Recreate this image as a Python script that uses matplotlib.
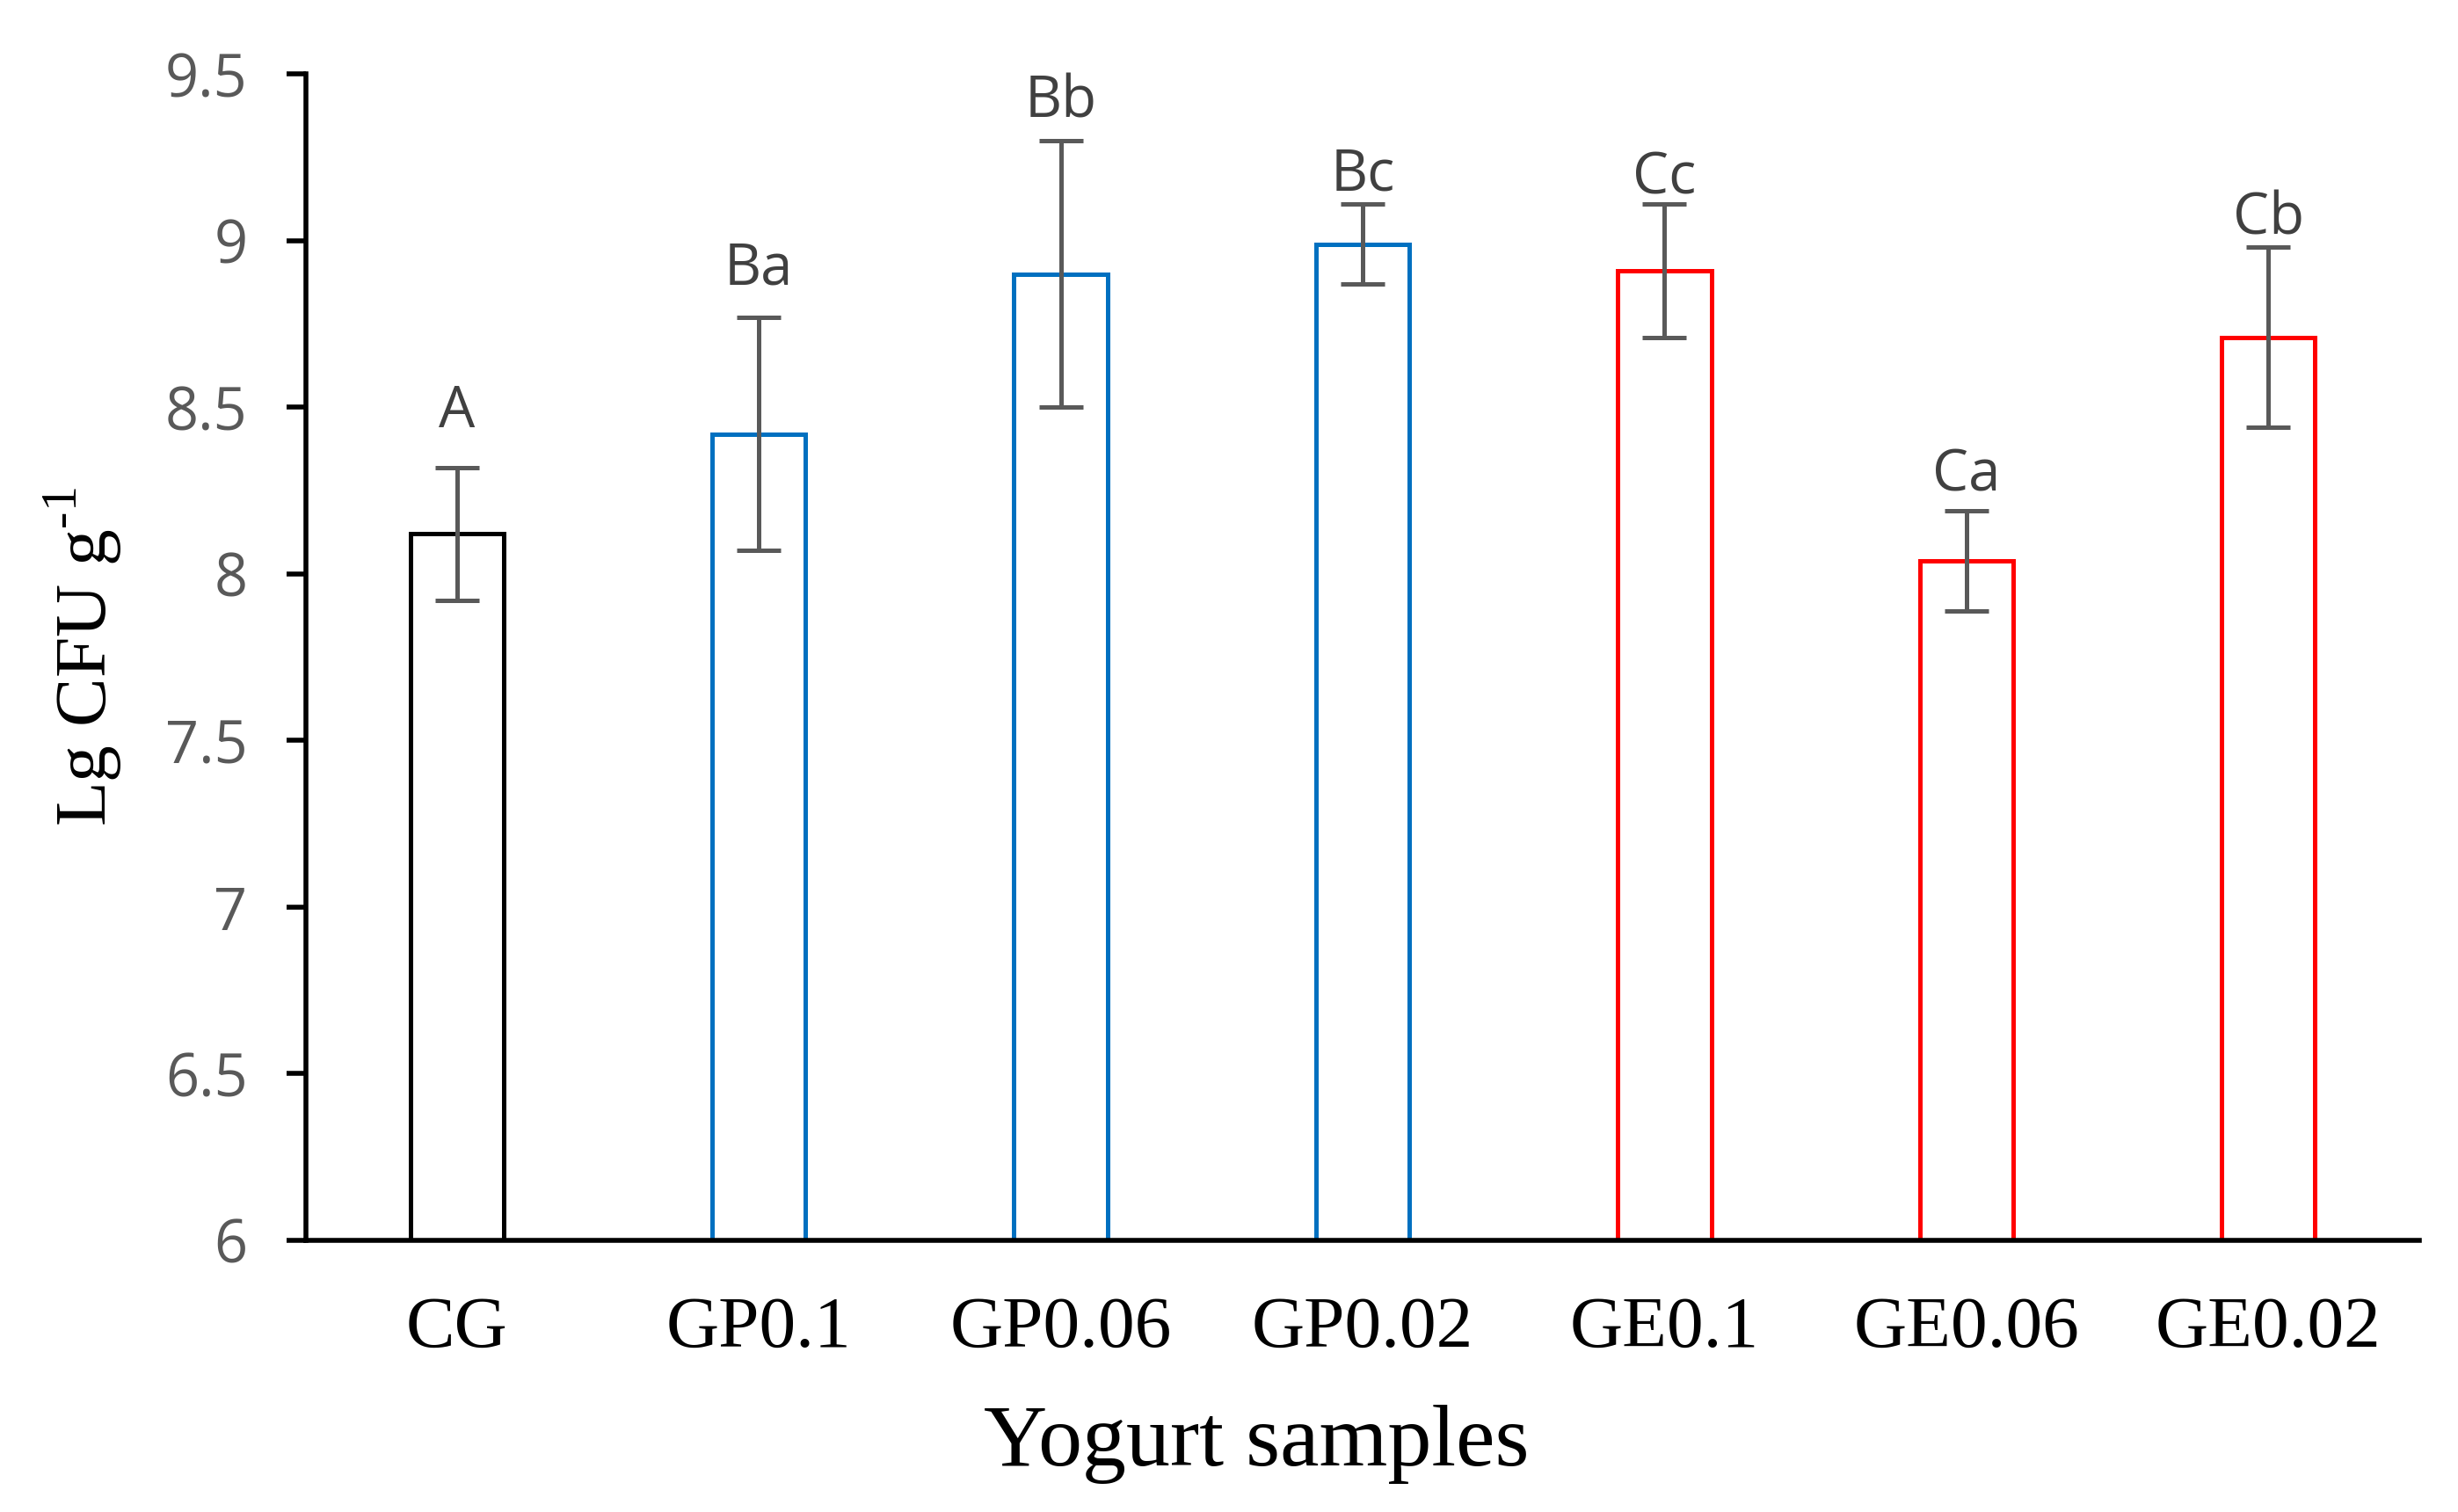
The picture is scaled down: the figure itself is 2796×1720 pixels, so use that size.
import numpy as np
import matplotlib.pyplot as plt

samples = ["CG", "GP0.1", "GP0.06", "GP0.02", "GE0.1", "GE0.06", "GE0.02"]
means = [8.12, 8.42, 8.90, 8.99, 8.91, 8.04, 8.71]
errors = [0.20, 0.35, 0.40, 0.12, 0.20, 0.15, 0.27]
letters = ["A", "Ba", "Bb", "Bc", "Cc", "Ca", "Cb"]
letter_y = [8.44, 8.87, 9.37, 9.15, 9.14, 8.25, 9.02]
edge_colors = ["#000000", "#0070C0", "#0070C0", "#0070C0", "#FF0000", "#FF0000", "#FF0000"]

sans = ["Open Sans", "DejaVu Sans"]
serif = ["Liberation Serif", "DejaVu Serif"]
plt.rcParams["mathtext.fontset"] = "custom"
plt.rcParams["mathtext.rm"] = "Liberation Serif"

fig = plt.figure(figsize=(13.98, 8.6), dpi=200)
ax = fig.add_axes([0.1245, 0.1797, 0.8597, 0.951 - 0.1797])

x = np.arange(len(samples))
base = 6
ax.bar(x, np.array(means) - base, bottom=base, width=0.31, color="white",
       edgecolor=edge_colors, linewidth=1.8, zorder=2)
ax.errorbar(x, means, yerr=errors, fmt="none", ecolor="#595959",
            elinewidth=1.8, capsize=9, capthick=1.8, zorder=3)

for xi, lab, ly in zip(x, letters, letter_y):
    ax.text(xi, ly, lab, ha="center", va="baseline", fontsize=23.5,
            color="#404040", family=sans)

ax.set_xlim(-0.5, len(samples) - 0.5)
ax.set_ylim(6, 9.5)
ax.set_yticks(np.arange(6, 9.51, 0.5))
ax.set_yticklabels(["6", "6.5", "7", "7.5", "8", "8.5", "9", "9.5"],
                   family=sans, fontsize=24, color="#595959")
ax.set_xticks(x)
ax.set_xticklabels(samples, family=serif, fontsize=30, color="black")

ax.tick_params(axis="y", direction="out", length=8, width=2, pad=16)
ax.tick_params(axis="x", length=0, pad=23)

for side in ["top", "right"]:
    ax.spines[side].set_visible(False)
for side in ["left", "bottom"]:
    ax.spines[side].set_linewidth(2)
    ax.spines[side].set_color("black")

fig.text(0.034, 0.566, "Lg CFU g$^{\\text{-1}}$", rotation=90, ha="center",
         va="center", fontsize=30, family=serif)
fig.text(0.511, 0.045, "Yogurt samples", ha="center", va="center",
         fontsize=36, family=serif)

fig.savefig("out.png", dpi=200)
